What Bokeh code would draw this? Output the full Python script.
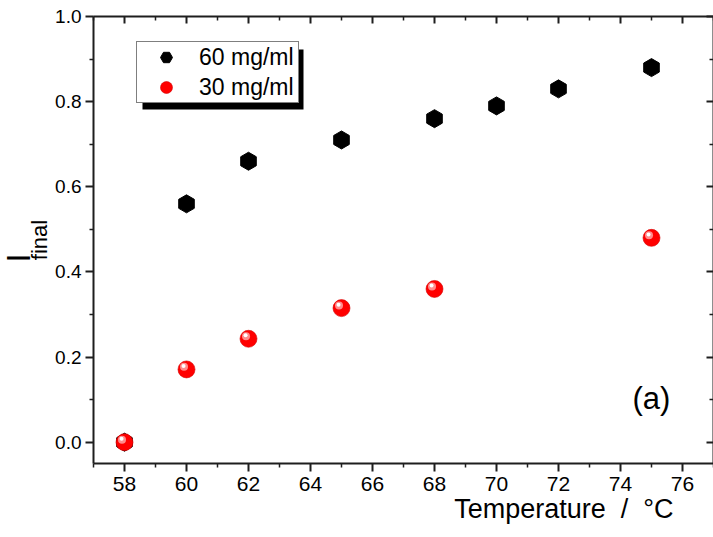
from bokeh.plotting import figure
from bokeh.models import (Range1d, LinearAxis, FixedTicker, PrintfTickFormatter, Label,
                          Legend, LegendItem, BoxAnnotation, Title)
from bokeh.transform import dodge
from bokeh.embed import file_html
from bokeh.resources import INLINE

# ---- data ----
temp_60 = [58, 60, 62, 65, 68, 70, 72, 75]
ifinal_60 = [0.0, 0.56, 0.66, 0.71, 0.76, 0.79, 0.83, 0.88]
temp_30 = [58, 60, 62, 65, 68, 75]
ifinal_30 = [0.0, 0.171, 0.243, 0.315, 0.36, 0.48]
series_labels = ["60 mg/ml", "30 mg/ml"]
x_ticks = [58, 60, 62, 64, 66, 68, 70, 72, 74, 76]
x_minor = [57, 59, 61, 63, 65, 67, 69, 71, 73, 75, 77]
y_ticks = [0.0, 0.2, 0.4, 0.6, 0.8, 1.0]
y_minor = [0.1, 0.3, 0.5, 0.7, 0.9]

FONT = "Liberation Sans"
AX = "#1e1e1e"

p = figure(width=713, height=537, x_range=Range1d(57, 77), y_range=Range1d(-0.05, 1.0),
           output_backend="svg", toolbar_location=None,
           x_axis_location=None, y_axis_location=None,
           min_border_left=93, min_border_right=0, min_border_top=16, min_border_bottom=74)
p.xgrid.visible = False
p.ygrid.visible = False
p.outline_line_color = None
p.background_fill_color = "white"
p.border_fill_color = "white"

xt = FixedTicker(ticks=x_ticks, minor_ticks=x_minor)
yt = FixedTicker(ticks=y_ticks, minor_ticks=y_minor)


def style(ax, inward, labels, size="20px"):
    ax.axis_line_color = AX
    ax.axis_line_width = 2
    ax.major_tick_line_color = AX
    ax.minor_tick_line_color = AX
    ax.major_tick_line_width = 2
    ax.minor_tick_line_width = 1.5
    if inward:
        ax.major_tick_in, ax.major_tick_out = 7, 0
        ax.minor_tick_in, ax.minor_tick_out = 4, 0
    else:
        ax.major_tick_in, ax.major_tick_out = 0, 8
        ax.minor_tick_in, ax.minor_tick_out = 0, 4
    if labels:
        ax.major_label_text_font = FONT
        ax.major_label_text_font_size = size
        ax.major_label_text_color = "black"
        ax.major_label_standoff = 5
    else:
        ax.major_label_text_font_size = "1px"
        ax.major_label_text_color = None
        ax.major_label_standoff = 0


bottom = LinearAxis(ticker=xt)
style(bottom, False, True, "21px")
left = LinearAxis(ticker=yt, formatter=PrintfTickFormatter(format="%.1f"))
style(left, False, True, "19px")
left.major_label_standoff = 4
left.axis_label = "final"
left.axis_label_text_font = FONT
left.axis_label_text_font_size = "22px"
left.axis_label_text_font_style = "normal"
left.axis_label_text_color = "black"
left.axis_label_standoff = 0
top = LinearAxis(ticker=xt)
style(top, True, False)
right = LinearAxis(ticker=yt)
style(right, True, False)
p.add_layout(bottom, "below")
p.add_layout(left, "left")
p.add_layout(top, "above")
p.add_layout(right, "right")

# axis titles
p.add_layout(Title(text="Temperature \u00a0/ \u00a0\u00b0C", align="right", offset=40, standoff=0,
                   text_font=FONT, text_font_size="27px", text_font_style="normal",
                   text_color="black", vertical_align="top"), "below")
i_title = Title(text="I", align="left", offset=201, standoff=0,
                text_font=FONT, text_font_size="33px", text_font_style="normal",
                text_color="black")
try:
    i_title.standoff = -25
except ValueError:
    i_title.text_font_size = "24px"
p.add_layout(i_title, "left")

# ---- data marks ----
r60 = p.scatter(temp_60, ifinal_60, marker="hex", size=18, angle=0.5236,
                fill_color="black", line_color="black")
src30 = dict(x=temp_30, y=ifinal_30)
r30 = p.scatter("x", "y", source=src30, marker="circle", size=17,
                fill_color="#ff0000", line_color="#d40000", line_width=0.6)
# glossy highlight on the red spheres
p.scatter(dodge("x", -0.08, range=p.x_range), dodge("y", 0.006, range=p.y_range), source=src30,
          marker="circle", size=8, fill_color="#ff8c8c", line_color=None)
p.scatter(dodge("x", -0.095, range=p.x_range), dodge("y", 0.008, range=p.y_range), source=src30,
          marker="circle", size=4, fill_color="#ffffff", line_color=None)

# ---- legend with drop shadow ----
shadow = BoxAnnotation(left=49, right=210, top=414, bottom=354,
                       left_units="screen", right_units="screen",
                       top_units="screen", bottom_units="screen",
                       fill_color="black", fill_alpha=1, line_color=None)
p.add_layout(shadow)
legend = Legend(items=[LegendItem(label=series_labels[0], renderers=[r60]),
                       LegendItem(label=series_labels[1], renderers=[r30])],
                location=(43, 360), orientation="vertical", padding=0, margin=0, spacing=0,
                glyph_width=58, glyph_height=30, label_standoff=4,
                label_width=99, label_height=20,
                label_text_font=FONT, label_text_font_size="23px",
                label_text_color="black",
                border_line_color="black", border_line_width=1.5,
                background_fill_color="white", background_fill_alpha=1)
p.add_layout(legend, "center")

p.add_layout(Label(x=539, y=65, x_units="screen", y_units="screen",
                   text="(a)", text_font=FONT, text_font_size="31px",
                   text_align="left", text_baseline="alphabetic", text_color="black"))

open("out.html", "w").write(file_html(p, INLINE))
